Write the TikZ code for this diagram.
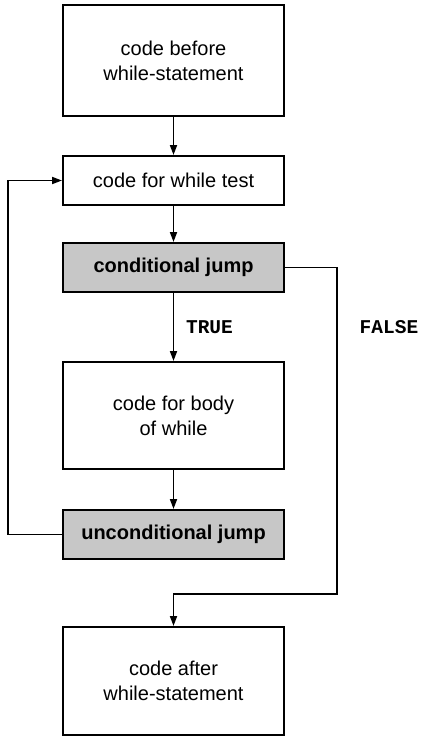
\documentclass[tikz,border=0pt]{standalone}
\usepackage{fontspec}
\setmainfont{Liberation Sans}
\newfontfamily\lblfont{Liberation Mono}
\usetikzlibrary{arrows.meta}
\begin{document}
\begin{tikzpicture}[x=1pt,y=-1pt,
  box/.style={draw, line width=2pt, minimum width=221pt, align=center, inner sep=0pt,
    font=\fontsize{20}{25}\selectfont},
  shadedbox/.style={box, fill=black!22, font=\bfseries\fontsize{20}{25}\selectfont},
  conn/.style={line width=1.8pt, -{Triangle[length=10pt,width=7pt]}},
  lbl/.style={font=\lblfont\bfseries\fontsize{19.5}{22}\selectfont, inner sep=0pt}]
\useasboundingbox (0,0) rectangle (423,737);
\node[box, minimum height=111pt] (before) at (173.5,60.5) {code before\\while-statement};
\node[box, minimum height=49pt] (test) at (173.5,180.5) {code for while test};
\node[shadedbox, minimum height=49pt] (cond) at (173.5,267.5) {conditional jump};
\node[box, minimum height=107pt] (body) at (173.5,415.5) {code for body\\of while};
\node[shadedbox, minimum height=49pt] (uncond) at (173.5,534.5) {unconditional jump};
\node[box, minimum height=108pt] (after) at (173.5,681) {code after\\while-statement};
\node[lbl] (true) at (209.5,327) {TRUE};
\node[lbl] (false) at (389,327) {FALSE};
\coordinate (lt) at (8,180.5);
\coordinate (lb) at (8,534.5);
\coordinate (rt) at (337,267.5);
\coordinate (rb) at (337,594);
\coordinate (mb) at (173.5,594);
\draw[conn] (before) -- (test);
\draw[conn] (test) -- (cond);
\draw[conn] (cond) -- (body);
\draw[conn] (body) -- (uncond);
\draw[conn] (uncond.west) -- (lb) -- (lt) -- (test.west);
\draw[conn] (cond.east) -- (rt) -- (rb) -- (mb) -- (after.north);
\end{tikzpicture}
\end{document}
